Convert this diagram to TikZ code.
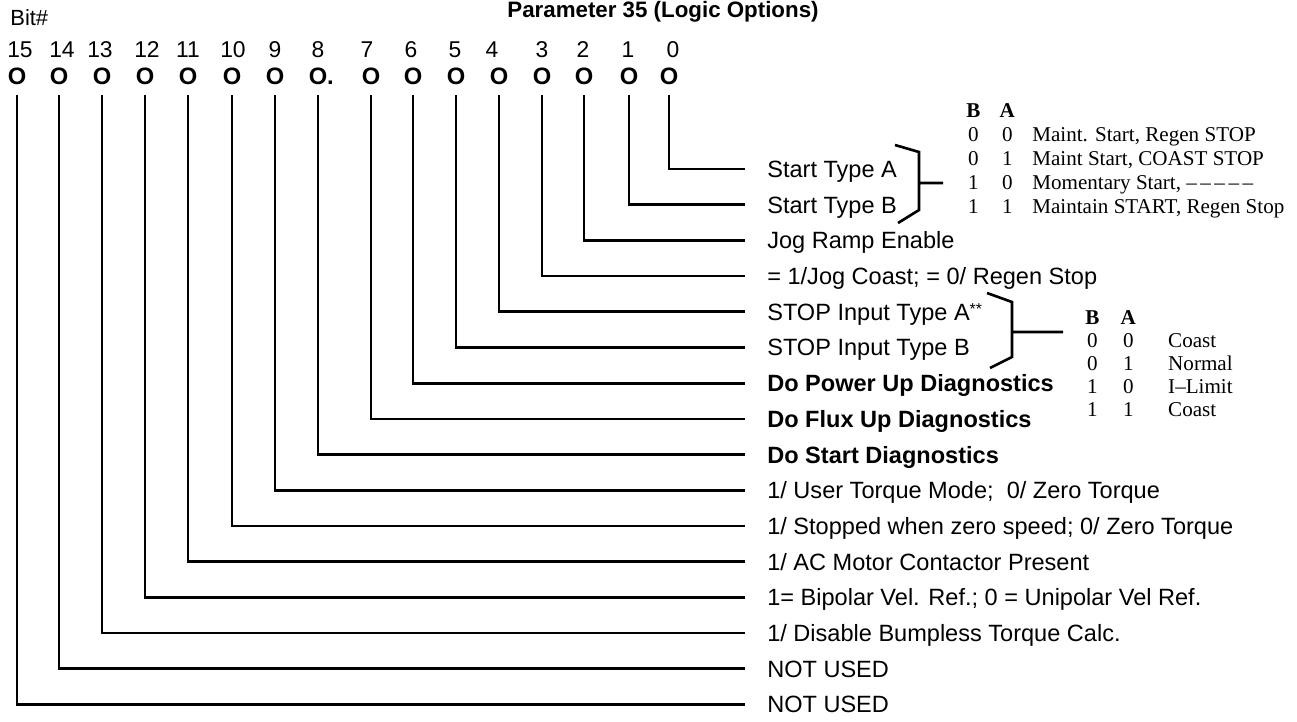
\documentclass[tikz,border=0pt]{standalone}
\usepackage{fontspec}
\setmainfont{Liberation Sans}
\newfontfamily\tabfont{Liberation Serif}
\usepackage{tikz}
\tikzset{
  bit/.style={font=\bfseries\fontsize{13.5}{13.5}\selectfont,inner sep=0pt},
  num/.style={font=\fontsize{13}{13}\selectfont,anchor=base,inner sep=0pt},
  txt/.style={font=\fontsize{13.4}{15}\selectfont,anchor=west,inner xsep=12.5pt,
    inner ysep=0pt,text height=9.6pt,text depth=0pt},
  bold/.style={txt,font=\bfseries\fontsize{13.4}{15}\selectfont},
  tab/.style={font=\tabfont\fontsize{12}{13.75}\selectfont,anchor=base west,inner sep=0pt},
  fl/.style={line width=1.5pt},
}

\begin{document}
\begin{tikzpicture}[x=0.02cm,y=-0.02cm]
  \useasboundingbox (0,0) rectangle (1297,721);
  \node[font=\bfseries\fontsize{12.7}{14}\selectfont,anchor=base] (title) at (663,17) {Parameter 35 (Logic Options)};
  \node[font=\fontsize{12.5}{14}\selectfont,anchor=base west,inner sep=0pt] (bitno) at (10,25) {Bit\#};
  % one label per bit
  \node[txt] (l0) at (745,169) {Start Type A};
  \node[txt] (l1) at (745,204.7) {Start Type B};
  \node[txt] (l2) at (745,240.4) {Jog Ramp Enable};
  \node[txt] (l3) at (745,276.1) {= 1/Jog Coast; = 0/ Regen Stop};
  \node[txt] (l4) at (745,311.8) {STOP Input Type A\raisebox{3pt}{\fontsize{9}{9}\selectfont**}};
  \node[txt] (l5) at (745,347.5) {STOP Input Type B};
  \node[bold] (l6) at (745,383.2) {Do Power Up Diagnostics};
  \node[bold] (l7) at (745,418.9) {Do Flux Up Diagnostics};
  \node[bold] (l8) at (745,454.6) {Do Start Diagnostics};
  \node[txt] (l9) at (745,490.3) {1/ User Torque Mode;\ \ 0/ Zero Torque};
  \node[txt] (l10) at (745,526) {1/ Stopped when zero speed; 0/ Zero Torque};
  \node[txt] (l11) at (745,561.7) {1/ AC Motor Contactor Present};
  \node[txt] (l12) at (745,597.4) {1= Bipolar Vel. Ref.; 0 = Unipolar Vel Ref.};
  \node[txt] (l13) at (745,633.1) {1/ Disable Bumpless Torque Calc.};
  \node[txt] (l14) at (745,668.8) {NOT USED};
  \node[txt] (l15) at (745,704.5) {NOT USED};
  % bit columns
  \foreach \i/\x/\n in {15/17/20,14/59/62,13/102/100,12/145/147,11/188/188,10/232/233,
      9/275/275,8/318/318,7/371/367,6/413/411,5/456/455,4/499/492,3/542/542,
      2/584/583,1/629/628,0/669/673}{
    \node[num] (d\i) at (\n,57) {\i};
    \node[bit] (b\i) at (\x,76) {O\ifnum\i=8\rlap{.}\fi};
    \draw[fl,shorten <=6pt] (b\i) |- (l\i);
  }
  % start type brace and table
  \draw[fl] (895,145) -- (919,152) -- (919,210) -- (898,223) (919,183) -- (943,183);
  \node[tab] (tabst) at (966,117) {\begin{tabular}[t]{@{}c@{\hspace{11pt}}c@{\hspace{9.9pt}}l@{}}
    \textbf{B} & \textbf{A} & \\
    0 & 0 & Maint. Start, Regen STOP\\
    0 & 1 & Maint Start, COAST STOP\\
    1 & 0 & Momentary Start, –\,–\,–\,–\,–\\
    1 & 1 & Maintain START, Regen Stop
  \end{tabular}};
  % stop input brace and table
  \draw[fl] (987,293) -- (1012,302) -- (1012,357) -- (990,368) (1012,332) -- (1063,332);
  \node[tab,font=\tabfont\fontsize{12}{13.2}\selectfont] (tabstop) at (1085,324) {\begin{tabular}[t]{@{}c@{\hspace{12.1pt}}c@{\hspace{18.4pt}}l@{}}
    \textbf{B} & \textbf{A} & \\
    0 & 0 & Coast\\
    0 & 1 & Normal\\
    1 & 0 & I–Limit\\
    1 & 1 & Coast
  \end{tabular}};
\end{tikzpicture}
\end{document}
